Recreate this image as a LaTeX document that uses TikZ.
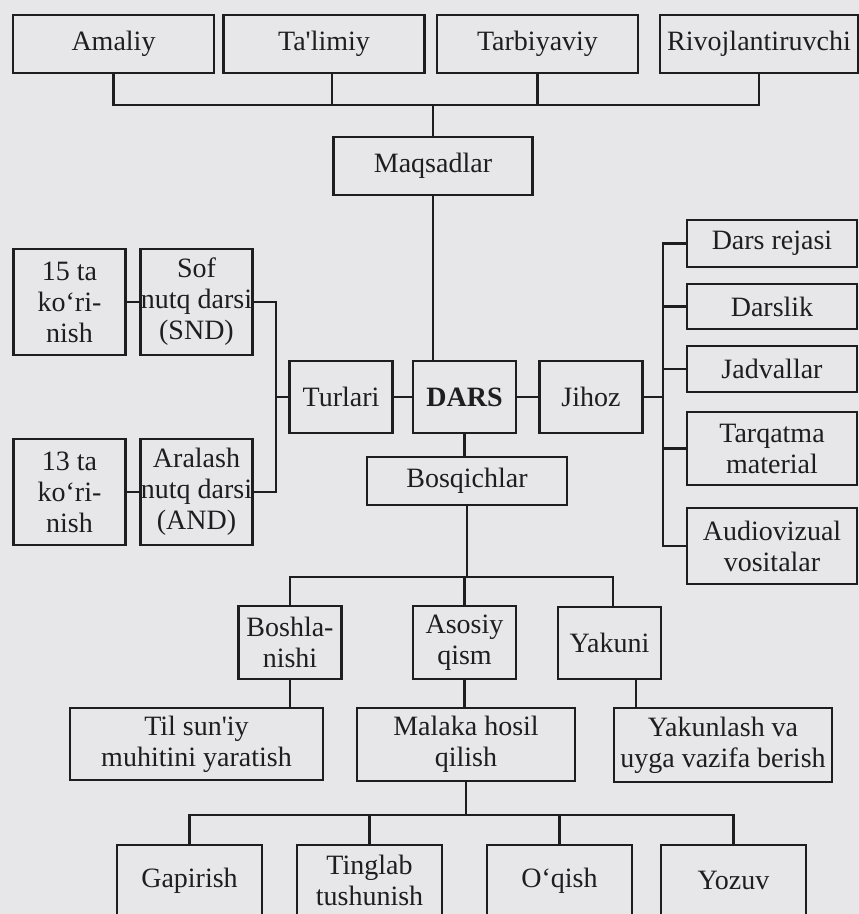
\documentclass[tikz,border=0pt]{standalone}
\usepackage{fontspec}
\setmainfont{Liberation Serif}
\definecolor{paper}{RGB}{231,231,233}
\definecolor{ink}{RGB}{30,30,30}

\begin{document}
\begin{tikzpicture}[
    x=1pt, y=-1pt,
    box/.style={draw=ink, line width=2.3pt, fill=paper, inner sep=0pt,
                align=center, text=ink, font=\fontsize{28}{31}\selectfont},
    wide/.style={box, minimum width=201, minimum height=58},
    small/.style={box, minimum width=103, minimum height=72},
    tall/.style={box, minimum width=112, minimum height=106},
    tool/.style={box, minimum width=170},
    skill/.style={box, minimum width=145, minimum height=71},
    link/.style={draw=ink, line width=2.3pt}
]

% --- Page ---
\fill[paper] (0,0) rectangle (859,914);
\useasboundingbox (0,0) rectangle (859,914);

% --- Goals (top) ---
\node[wide] (amaliy)  at (113.5,44) {Amaliy};
\node[wide] (talimiy) at (324,44)   {Ta\textquotesingle limiy};
\node[wide] (tarbiya) at (537.5,44) {Tarbiyaviy};
\node[wide, minimum width=198] (rivoj) at (759,44) {Rivojlantiruvchi};
\node[wide, minimum width=199] (maqsad) at (433,166) {Maqsadlar};

% --- Middle row ---
\node[small] (turlari) at (341,397)   {Turlari};
\node[small] (dars)    at (464.5,397) {\textbf{DARS}};
\node[small] (jihoz)   at (591,397)   {Jihoz};

% --- Types (left) ---
\node[tall] (fifteen)  at (69.5,302)  {15 ta\\ko‘ri-\\nish};
\node[tall] (sof)      at (196.5,302) {Sof\\nutq darsi\\(SND)};
\node[tall] (thirteen) at (69.5,492)  {13 ta\\ko‘ri-\\nish};
\node[tall] (aralash)  at (196.5,492) {Aralash\\nutq darsi\\(AND)};

% --- Equipment (right) ---
\node[tool, minimum height=47] (rejasi)   at (772,243.5) {Dars rejasi};
\node[tool, minimum height=45] (darslik)  at (772,306.5) {Darslik};
\node[tool, minimum height=46] (jadval)   at (772,369)   {Jadvallar};
\node[tool, minimum height=73] (tarqatma) at (772,448.5) {Tarqatma\\material};
\node[tool, minimum height=76] (audio)    at (772,546)   {Audiovizual\\vositalar};

% --- Stages ---
\node[box, minimum width=200, minimum height=48] (bosq) at (467,481) {Bosqichlar};
\node[small, minimum height=73] (boshla) at (290,642.5)   {Boshla-\\nishi};
\node[small, minimum height=73] (asosiy) at (464.5,642.5) {Asosiy\\qism};
\node[small] (yakuni) at (609.5,643) {Yakuni};

\node[box, minimum width=253, minimum height=72] (til)       at (196.5,744) {Til sun\textquotesingle iy\\muhitini yaratish};
\node[box, minimum width=218, minimum height=73] (malaka)    at (466,744.5) {Malaka hosil\\qilish};
\node[box, minimum width=218, minimum height=74] (yakunlash) at (723,745)   {Yakunlash va\\uyga vazifa berish};

% --- Skills (bottom, cut by page) ---
\node[skill] (gapirish) at (189.5,880.5) {Gapirish};
\node[skill] (tinglab)  at (369.5,880.5) {Tinglab\\tushunish};
\node[skill] (oqish)    at (559.5,880.5) {O‘qish};
\node[skill] (yozuv)    at (733.5,880.5) {Yozuv};

% --- Bus coordinates ---
\coordinate (topbus)   at (433,105);
\coordinate (typebus)  at (276,397);
\coordinate (toolbus)  at (663,397);
\coordinate (stagebus) at (467,577);
\coordinate (skillbus) at (466,815);

% --- Goals to Maqsadlar ---
\draw[link] (amaliy.south) |- (topbus) -| (rivoj.south);
\draw[link] ([xshift=8pt]talimiy.south) -- ([xshift=8pt]talimiy.south |- topbus);
\draw[link] (tarbiya.south) -- (tarbiya.south |- topbus);
\draw[link] (maqsad.north) -- (topbus);
\draw[link] (maqsad.south) -- (maqsad.south |- dars.north);

% --- Middle row ---
\draw[link] (turlari.east) -- (dars.west);
\draw[link] (dars.east) -- (jihoz.west);
\draw[link] (dars.south) -- (dars.south |- bosq.north);

% --- Types ---
\draw[link] (fifteen.east) -- (sof.west);
\draw[link] (thirteen.east) -- (aralash.west);
\draw[link] (sof.east) -| (typebus) |- (aralash.east);
\draw[link] (typebus) -- (turlari.west);

% --- Equipment ---
\draw[link] (jihoz.east) -- (toolbus);
\draw[link] (rejasi.west) -| (toolbus) |- (audio.west);
\foreach \n in {darslik, jadval, tarqatma}
    \draw[link] (toolbus |- \n.west) -- (\n.west);

% --- Stages ---
\draw[link] (bosq.south) -- (stagebus);
\draw[link] (boshla.north) |- (stagebus) -| ([xshift=3.5pt]yakuni.north);
\draw[link] (asosiy.north) -- (asosiy.north |- stagebus);
\draw[link] (boshla.south) -- (boshla.south |- til.north);
\draw[link] (asosiy.south) -- (asosiy.south |- malaka.north);
\draw[link] ([xshift=26.5pt]yakuni.south) -- ([xshift=26.5pt]yakuni.south |- yakunlash.north);

% --- Skills ---
\draw[link] (malaka.south) -- (skillbus);
\draw[link] (gapirish.north) |- (skillbus) -| (yozuv.north);
\draw[link] (tinglab.north) -- (tinglab.north |- skillbus);
\draw[link] (oqish.north) -- (oqish.north |- skillbus);

\end{tikzpicture}
\end{document}
